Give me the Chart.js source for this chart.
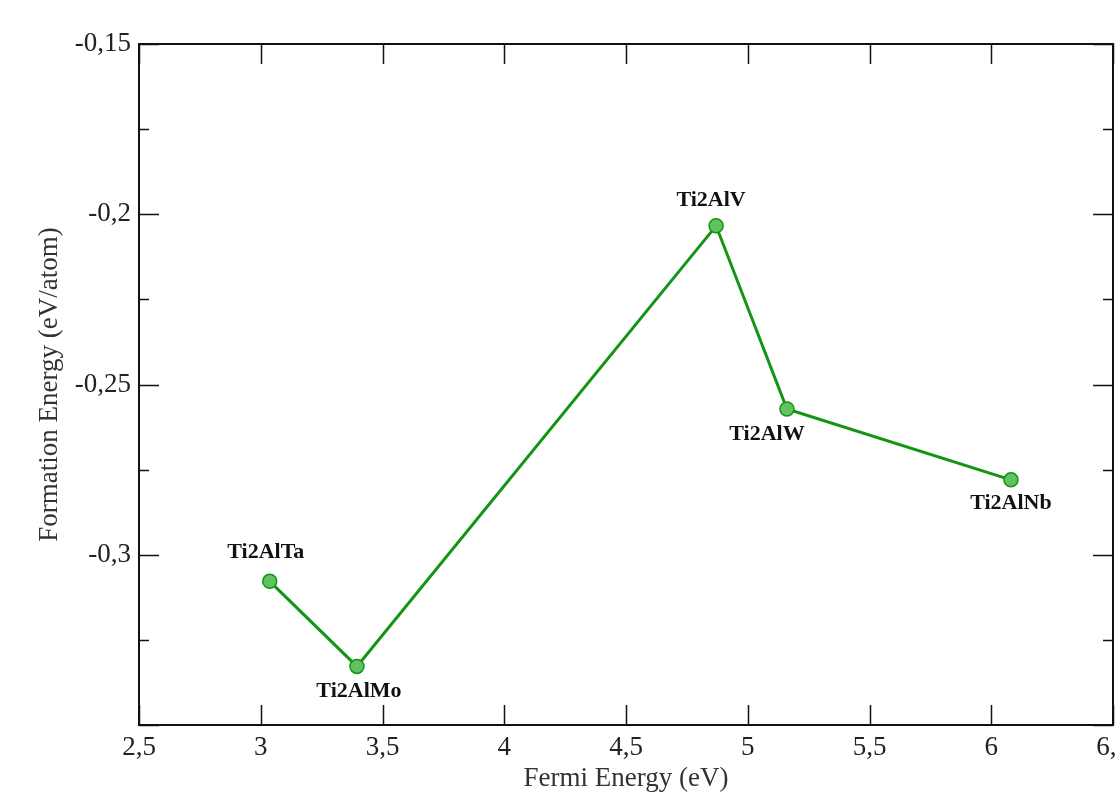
<!DOCTYPE html>
<html>
<head>
<meta charset="utf-8">
<script src="https://cdn.jsdelivr.net/npm/chart.js@4.4.1/dist/chart.umd.min.js"></script>
<style>
  html, body { margin: 0; padding: 0; background: #fff; overflow: hidden; }
  #wrap { width: 1115px; height: 792px; }
</style>
</head>
<body>
<div id="wrap"><canvas id="formationChart" width="1115" height="792"></canvas></div>
<script>
const compounds = ['Ti2AlTa', 'Ti2AlMo', 'Ti2AlV', 'Ti2AlW', 'Ti2AlNb'];
const fermiEnergy = [3.037, 3.395, 4.870, 5.161, 6.081];
const formationEnergy = [-0.3078, -0.3328, -0.2034, -0.2572, -0.2780];
const xTicks = [2.5, 3, 3.5, 4, 4.5, 5, 5.5, 6, 6.5];
const yTicks = [-0.35, -0.3, -0.25, -0.2, -0.15];

// where each name sits relative to its point (px)
const labelOffsets = [[-4, -29], [2, 25], [-5, -26], [-20, 25], [0, 23]];

const serif = '"Liberation Serif", "Times New Roman", serif';
const comma = (v) => String(Number(v.toFixed(3))).replace('.', ',');

const frameTicks = {
  id: 'frameTicks',
  afterDraw(chart) {
    const { ctx, chartArea: a, scales: { x, y } } = chart;
    ctx.save();
    ctx.strokeStyle = '#111';
    ctx.lineWidth = 2;
    ctx.strokeRect(a.left, a.top, a.right - a.left, a.bottom - a.top);
    ctx.beginPath();
    xTicks.forEach((v) => {
      const px = Math.round(x.getPixelForValue(v)) + 0.5;
      ctx.moveTo(px, a.bottom); ctx.lineTo(px, a.bottom - 20);
      ctx.moveTo(px, a.top); ctx.lineTo(px, a.top + 20);
    });
    yTicks.forEach((v, i) => {
      const py = Math.round(y.getPixelForValue(v)) + 0.5;
      ctx.moveTo(a.left, py); ctx.lineTo(a.left + 20, py);
      ctx.moveTo(a.right, py); ctx.lineTo(a.right - 20, py);
      if (i < yTicks.length - 1) {
        const my = Math.round(y.getPixelForValue((v + yTicks[i + 1]) / 2)) + 0.5;
        ctx.moveTo(a.left, my); ctx.lineTo(a.left + 10, my);
        ctx.moveTo(a.right, my); ctx.lineTo(a.right - 10, my);
      }
    });
    ctx.lineWidth = 1.5;
    ctx.stroke();
    ctx.restore();
  }
};

const pointNames = {
  id: 'pointNames',
  afterDatasetsDraw(chart) {
    const { ctx } = chart;
    const pts = chart.getDatasetMeta(0).data;
    ctx.save();
    ctx.font = 'bold 22px ' + serif;
    ctx.fillStyle = '#111';
    ctx.textAlign = 'center';
    ctx.textBaseline = 'middle';
    pts.forEach((p, i) => {
      const [dx, dy] = labelOffsets[i];
      ctx.fillText(compounds[i], p.x + dx, p.y + dy);
    });
    ctx.restore();
  }
};

new Chart(document.getElementById('formationChart'), {
  type: 'line',
  data: {
    datasets: [{
      data: fermiEnergy.map((e, i) => ({ x: e, y: formationEnergy[i] })),
      borderColor: '#149414',
      borderWidth: 3,
      backgroundColor: '#5cc05c',
      pointBackgroundColor: '#62c262',
      pointBorderColor: '#129612',
      pointBorderWidth: 1.5,
      pointRadius: 7,
      tension: 0,
    }],
  },
  options: {
    responsive: false,
    animation: false,
    layout: { autoPadding: false, padding: { top: 44, right: 2, left: 0, bottom: 0 } },
    plugins: { legend: { display: false }, tooltip: { enabled: false } },
    scales: {
      x: {
        type: 'linear', min: 2.5, max: 6.5,
        afterBuildTicks: (s) => { s.ticks = xTicks.map((v) => ({ value: v })); },
        ticks: { callback: comma, font: { family: serif, size: 27 }, color: '#222', padding: 7, maxRotation: 0, autoSkip: false },
        grid: { display: false, drawTicks: false },
        border: { display: false },
        title: { display: true, text: 'Fermi Energy (eV)', font: { family: serif, size: 27 }, color: '#333', padding: { top: 0, bottom: -3 } },
        afterFit: (s) => { s.height = 67; s.paddingLeft = 0; s.paddingRight = 0; },
      },
      y: {
        type: 'linear', min: -0.35, max: -0.15,
        afterBuildTicks: (s) => { s.ticks = yTicks.map((v) => ({ value: v })); },
        ticks: { callback: (v) => (v <= -0.349 ? '' : comma(v)), font: { family: serif, size: 27 }, color: '#222', padding: 8, autoSkip: false },
        grid: { display: false, drawTicks: false },
        border: { display: false },
        title: { display: true, text: 'Formation Energy (eV/atom)', font: { family: serif, size: 27 }, color: '#333', padding: { top: 34, bottom: 0 } },
        afterFit: (s) => { s.width = 139; s.paddingTop = 0; s.paddingBottom = 0; },
      },
    },
  },
  plugins: [frameTicks, pointNames],
});
</script>
</body>
</html>
